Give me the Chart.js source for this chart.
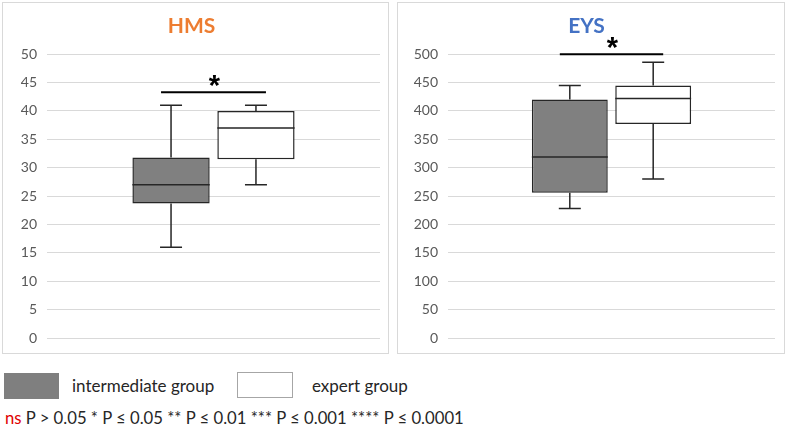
<!DOCTYPE html>
<html>
<head>
<meta charset="utf-8">
<script src="https://cdn.jsdelivr.net/npm/chart.js@4.4.1/dist/chart.umd.min.js"></script>
<style>
	body { margin: 0; background: #fff; width: 787px; height: 426px; position: relative; overflow: hidden; font-family: Lato, 'Liberation Sans', sans-serif; }
	.panel { position: absolute; top: 2px; height: 350px; border: 1px solid #d9d9d9; }
	.panel canvas { display: block; }
	.swatch { position: absolute; height: 26px; box-sizing: border-box; }
	.label { position: absolute; font-size: 17px; color: #262626; line-height: 20px; }
	.note { position: absolute; left: 5px; top: 408px; font-size: 16.7px; color: #262626; white-space: nowrap; line-height: 20px; }
	.note span { color: #e00000; }
</style>
</head>
<body>
<div class="panel" style="left:2px;width:385px;"><canvas id="hmsChart" width="385" height="350"></canvas></div>
<div class="panel" style="left:397px;width:386px;"><canvas id="eysChart" width="386" height="350"></canvas></div>

<div class="swatch" style="left:4px;top:373px;width:55px;background:#7f7f7f;"></div>
<div class="label" style="left:72px;top:376px;">intermediate group</div>
<div class="swatch" style="left:237px;top:372px;width:56px;border:1px solid #a6a6a6;background:#fff;"></div>
<div class="label" style="left:312px;top:376px;">expert group</div>
<div class="note"><span>ns</span> P &gt; 0.05 * P ≤ 0.05 ** P ≤ 0.01 *** P ≤ 0.001 **** P ≤ 0.0001</div>

<script>
const groups = ['intermediate group', 'expert group'];
const groupColors = ['#808080', '#ffffff'];

// HMS
const hmsMin = [16, 27];
const hmsQ1 = [23.7, 31.5];
const hmsMedian = [27, 37];
const hmsQ3 = [31.8, 40];
const hmsMax = [41, 41];
const hmsSig = 43.3;

// EYS
const eysMin = [228, 280];
const eysQ1 = [256, 377];
const eysMedian = [319, 422];
const eysQ3 = [420, 445];
const eysMax = [445, 486];
const eysSig = 500;

const lineColor = '#262626';

const boxExtras = {
	id: 'boxExtras',
	afterDatasetsDraw(chart, args, opts) {
		const ctx = chart.ctx;
		const y = chart.scales.y;
		const cap = 11;
		const bars = [];
		ctx.save();
		ctx.strokeStyle = lineColor;
		ctx.lineWidth = 1.5;
		chart.data.datasets.forEach((ds, i) => {
			const bar = chart.getDatasetMeta(i).data[0];
			bars.push(bar);
			const x = bar.x;
			const half = bar.width / 2;
			const yMin = y.getPixelForValue(opts.min[i]);
			const yMax = y.getPixelForValue(opts.max[i]);
			const yMed = y.getPixelForValue(opts.median[i]);
			const yQ1 = y.getPixelForValue(ds.data[0][0]);
			const yQ3 = y.getPixelForValue(ds.data[0][1]);
			ctx.beginPath();
			ctx.moveTo(x, yQ3); ctx.lineTo(x, yMax);
			ctx.moveTo(x - cap, yMax); ctx.lineTo(x + cap, yMax);
			ctx.moveTo(x, yQ1); ctx.lineTo(x, yMin);
			ctx.moveTo(x - cap, yMin); ctx.lineTo(x + cap, yMin);
			ctx.moveTo(x - half, yMed); ctx.lineTo(x + half, yMed);
			ctx.stroke();
		});
		// significance bar
		const ySig = y.getPixelForValue(opts.sig);
		const x1 = bars[0].x - 10;
		const x2 = bars[1].x + 10;
		ctx.strokeStyle = '#000';
		ctx.lineWidth = 2;
		ctx.beginPath();
		ctx.moveTo(x1, ySig);
		ctx.lineTo(x2, ySig);
		ctx.stroke();
		ctx.fillStyle = '#000';
		ctx.font = 'bold 29px "Liberation Sans"';
		ctx.textAlign = 'center';
		ctx.textBaseline = 'alphabetic';
		ctx.fillText('*', (x1 + x2) / 2 + 1, ySig + 3);
		ctx.restore();
	}
};

function makeBoxChart(id, title, titleColor, mins, q1s, medians, q3s, maxs, yMax, yStep, sig, axisWidth, padRight) {
	const ctx = document.getElementById(id).getContext('2d');
	return new Chart(ctx, {
		type: 'bar',
		data: {
			labels: [''],
			datasets: groups.map((g, i) => ({
				label: g,
				data: [[q1s[i], q3s[i]]],
				backgroundColor: groupColors[i],
				borderColor: lineColor,
				borderWidth: 1.5,
				borderSkipped: false,
				categoryPercentage: 0.51,
				barPercentage: 0.91
			}))
		},
		options: {
			responsive: false,
			animation: false,
			layout: { padding: { left: 0, right: padRight, top: 0, bottom: 15 } },
			plugins: {
				legend: { display: false },
				tooltip: { enabled: false },
				title: {
					display: true,
					text: title,
					color: titleColor,
					font: { family: 'Lato', size: 21, weight: 'bold', lineHeight: 1.2 },
					padding: { top: 11, bottom: 15 }
				},
				boxExtras: { min: mins, median: medians, max: maxs, sig }
			},
			scales: {
				x: { display: false },
				y: {
					min: 0,
					max: yMax,
					border: { display: false },
					grid: { color: '#d9d9d9', lineWidth: 1, drawTicks: false },
					ticks: { stepSize: yStep, padding: 10, color: '#595959', font: { family: 'Lato', size: 14 } },
					afterFit(scale) {
						scale.width = axisWidth;
						scale.paddingTop = 0;
						scale.paddingBottom = 0;
					}
				}
			}
		},
		plugins: [boxExtras]
	});
}

makeBoxChart('hmsChart', 'HMS', '#ed7d31', hmsMin, hmsQ1, hmsMedian, hmsQ3, hmsMax, 50, 5, hmsSig, 44, 8);
makeBoxChart('eysChart', 'EYS', '#4472c4', eysMin, eysQ1, eysMedian, eysQ3, eysMax, 500, 50, eysSig, 50, 9);
</script>
</body>
</html>
